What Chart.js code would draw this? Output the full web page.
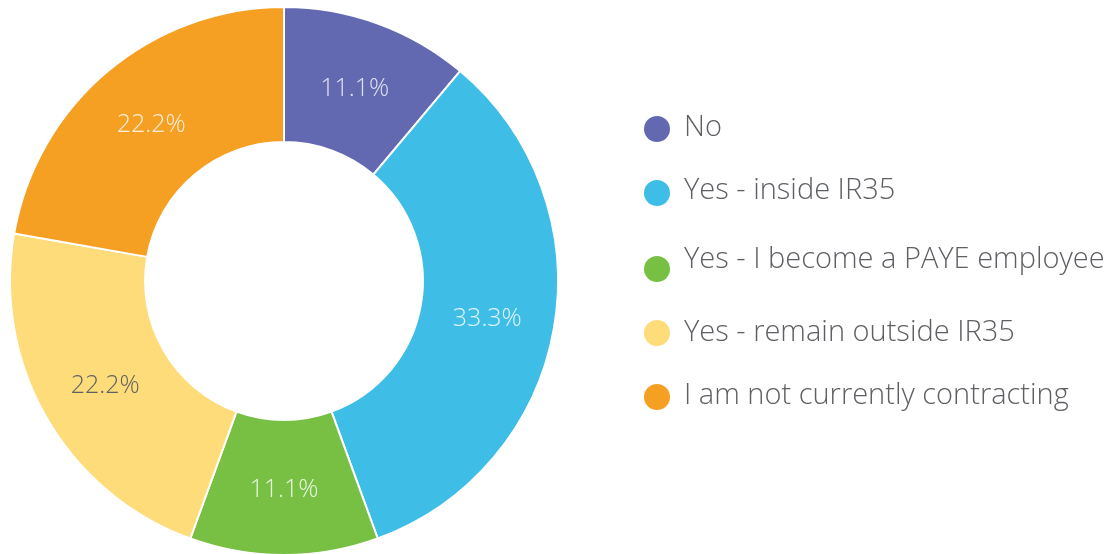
<!DOCTYPE html>
<html>
<head>
<meta charset="utf-8">
<script src="https://cdn.jsdelivr.net/npm/chart.js@4/dist/chart.umd.min.js"></script>
<style>
  html, body { margin: 0; padding: 0; background: #fff; overflow: hidden; }
  #wrap { width: 1119px; height: 554px; position: relative; }
</style>
</head>
<body>
<div id="wrap"><canvas id="c" width="1119" height="554"></canvas></div>
<script>
const categories = ['No', 'Yes - inside IR35', 'Yes - I become a PAYE employee', 'Yes - remain outside IR35', 'I am not currently contracting'];
const responses = [1, 3, 1, 2, 2];
const sliceColors = ['#6369b1', '#3ebde6', '#78c043', '#fddc79', '#f6a023'];
const labelColors = ['rgba(255,255,255,0.8)', 'rgba(255,255,255,0.85)', 'rgba(255,255,255,0.85)', '#5d5f63', 'rgba(255,255,255,0.85)'];

const total = responses.reduce((a, b) => a + b, 0);

const sliceLabels = {
  id: 'sliceLabels',
  afterDatasetsDraw(chart) {
    const ctx = chart.ctx;
    const meta = chart.getDatasetMeta(0);
    ctx.save();
    ctx.font = '300 25px "Open Sans"';
    ctx.textAlign = 'center';
    ctx.textBaseline = 'middle';
    meta.data.forEach((arc, i) => {
      const p = arc.getCenterPoint();
      const v = chart.data.datasets[0].data[i];
      ctx.fillStyle = labelColors[i];
      ctx.fillText((v / total * 100).toFixed(1) + '%', p.x, p.y + 2);
    });
    ctx.restore();
  }
};

const sideLegend = {
  id: 'sideLegend',
  afterDraw(chart) {
    const ctx = chart.ctx;
    const ds = chart.data.datasets[0];
    const markerX = 657, textX = 684;
    const markerY = [129, 193, 269, 333, 397];
    const textY = [128, 191, 260, 333, 396];
    ctx.save();
    ctx.font = '300 29px "Open Sans"';
    ctx.textAlign = 'left';
    ctx.textBaseline = 'middle';
    chart.data.labels.forEach((lab, i) => {
      ctx.beginPath();
      ctx.arc(markerX, markerY[i], 13, 0, Math.PI * 2);
      ctx.fillStyle = ds.backgroundColor[i];
      ctx.fill();
      ctx.fillStyle = '#5d5f63';
      ctx.fillText(lab, textX, textY[i]);
    });
    ctx.restore();
  }
};

new Chart(document.getElementById('c'), {
  type: 'doughnut',
  data: {
    labels: categories,
    datasets: [{
      data: responses,
      backgroundColor: sliceColors,
      borderColor: '#ffffff',
      borderWidth: 2,
      radius: 274,
      cutout: '50.7%'
    }]
  },
  options: {
    responsive: false,
    animation: false,
    layout: { padding: { left: 0, right: 551, top: 8, bottom: 0 } },
    plugins: {
      legend: { display: false },
      tooltip: { enabled: false }
    }
  },
  plugins: [sliceLabels, sideLegend]
});
</script>
</body>
</html>
